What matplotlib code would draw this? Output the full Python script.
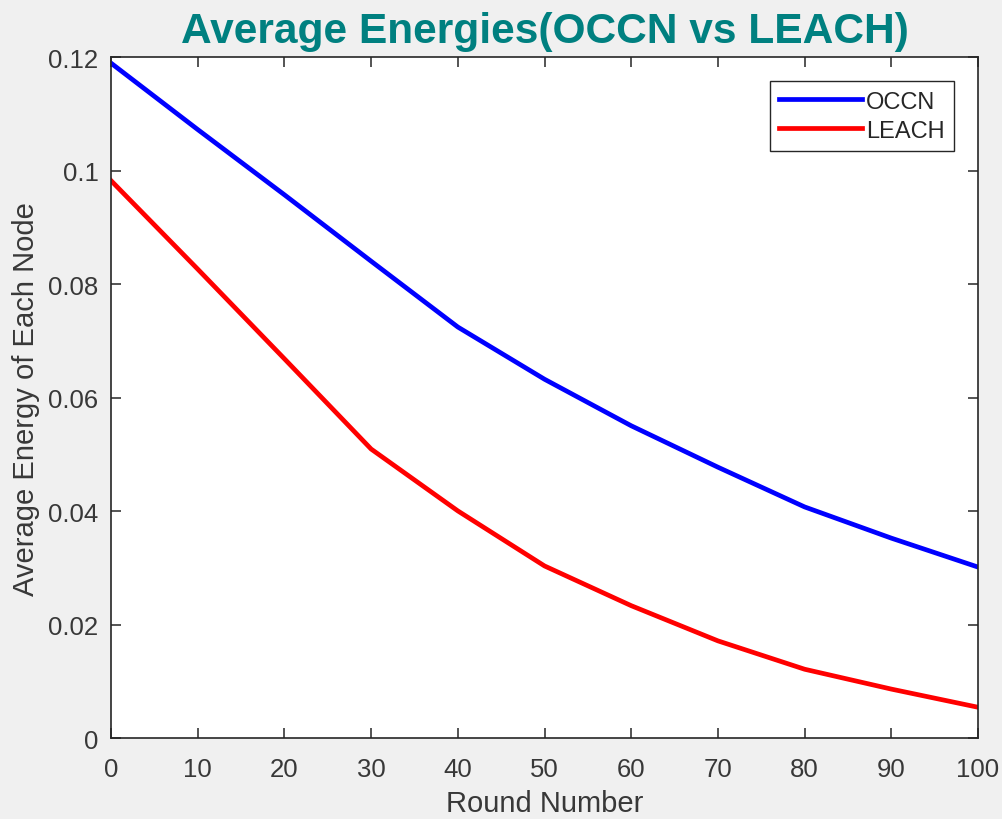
import numpy as np
from matplotlib import pyplot as plt

# values (energy per node vs round)
rounds = [0, 10, 20, 30, 40, 50, 60, 70, 80, 90, 100]
occn = [0.1190, 0.1073, 0.0958, 0.0841, 0.0725, 0.0633, 0.0551, 0.0478, 0.0408, 0.0353, 0.0302]
leach = [0.0983, 0.0827, 0.0669, 0.0510, 0.0401, 0.0304, 0.0234, 0.0172, 0.0122, 0.0087, 0.0055]
x_ticks = [0, 10, 20, 30, 40, 50, 60, 70, 80, 90, 100]
y_ticks = [0, 0.02, 0.04, 0.06, 0.08, 0.1, 0.12]
y_tick_labels = ['0', '0.02', '0.04', '0.06', '0.08', '0.1', '0.12']

plt.rcParams['font.family'] = ['Liberation Sans', 'DejaVu Sans']
grey = '#262626'
text_grey = '#383838'

fig = plt.figure(figsize=(10.02, 8.2), dpi=100, facecolor='#f0f0f0')
ax = fig.add_axes([0.1108, 0.0982, 0.8653, 0.8305])
ax.set_facecolor('white')

ax.plot(rounds, occn, color='#0000ff', linewidth=3.4, label='OCCN')
ax.plot(rounds, leach, color='#ff0000', linewidth=3.4, label='LEACH')

ax.set_xlim(0, 100)
ax.set_ylim(0, 0.12)
ax.set_xticks(x_ticks)
ax.set_yticks(y_ticks)
ax.set_yticklabels(y_tick_labels)
ax.tick_params(direction='in', length=7, width=1.1, colors=grey, labelcolor=text_grey,
               labelsize=18.5, top=True, right=True)
ax.tick_params(axis='x', pad=13)
ax.tick_params(axis='y', pad=9)
for side in ax.spines.values():
    side.set_color(grey)
    side.set_linewidth(1.2)

ax.set_xlabel('Round Number', fontsize=21, color=text_grey, labelpad=6)
ax.set_ylabel('Average Energy of Each Node', fontsize=21, color=text_grey, labelpad=6)
ax.set_title('Average Energies(OCCN vs LEACH)', fontsize=30.6, fontweight='bold',
             color='#008080', pad=11)

leg = ax.legend(loc='upper right', fontsize=17, handlelength=3.5, handletextpad=0.2,
                borderpad=0.4, labelspacing=0.3, fancybox=False, framealpha=1,
                edgecolor=grey, borderaxespad=1.0)
leg.get_frame().set_linewidth(1.0)
for t in leg.get_texts():
    t.set_color(grey)

plt.savefig('out.png', dpi=100, facecolor=fig.get_facecolor())
